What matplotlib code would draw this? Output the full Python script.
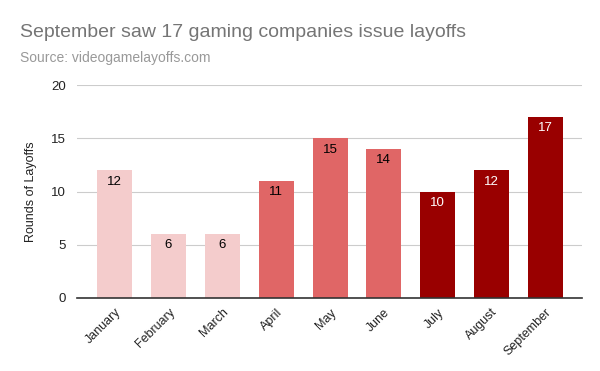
import matplotlib.pyplot as plt

plt.rcParams['font.family'] = ['Liberation Sans', 'DejaVu Sans']

months = ['January', 'February', 'March', 'April', 'May', 'June',
          'July', 'August', 'September']
layoffs = [12, 6, 6, 11, 15, 14, 10, 12, 17]
quarter = [1, 1, 1, 2, 2, 2, 3, 3, 3]

quarter_colors = {1: '#f4cccc', 2: '#e06666', 3: '#990000'}
label_colors = {1: '#000000', 2: '#000000', 3: '#ffffff'}

fig = plt.figure(figsize=(6, 3.71), dpi=100)
ax = fig.add_axes([77 / 600, 1 - 298 / 371, 505 / 600, 213 / 371])

x = range(len(months))
colors = [quarter_colors[q] for q in quarter]
ax.bar(x, layoffs, width=0.65, color=colors, zorder=2)

for i, v in enumerate(layoffs):
    ax.text(i, v - 0.5, str(v), ha='center', va='top', fontsize=9.5,
            color=label_colors[quarter[i]], zorder=3)

ax.set_xlim(-0.7, 8.68)
ax.set_ylim(0, 20)
ax.set_yticks([0, 5, 10, 15, 20])
ax.set_xticks(list(x))
ax.set_xticklabels(months, rotation=45, ha='right', rotation_mode='anchor',
                   fontsize=9, color='#222222')
ax.tick_params(axis='y', labelsize=9.5, colors='#222222', length=0, pad=8)
ax.tick_params(axis='x', length=0, pad=6)
ax.grid(axis='y', color='#cccccc', linewidth=0.8, zorder=0)
for s in ['top', 'right', 'left']:
    ax.spines[s].set_visible(False)
ax.spines['bottom'].set_color('#333333')
ax.spines['bottom'].set_linewidth(1.2)
ax.spines['bottom'].set_zorder(4)

ax.set_ylabel('Rounds of Layoffs', fontsize=9, color='#222222')
ax.yaxis.set_label_coords(-40 / 505, 0.5)

fig.text(20 / 600, 1 - 37 / 371, 'September saw 17 gaming companies issue layoffs',
         fontsize=14, color='#757575', va='baseline')
fig.text(20 / 600, 1 - 62 / 371, 'Source: videogamelayoffs.com',
         fontsize=10, color='#999999', va='baseline')

fig.savefig('out.png', dpi=100)
